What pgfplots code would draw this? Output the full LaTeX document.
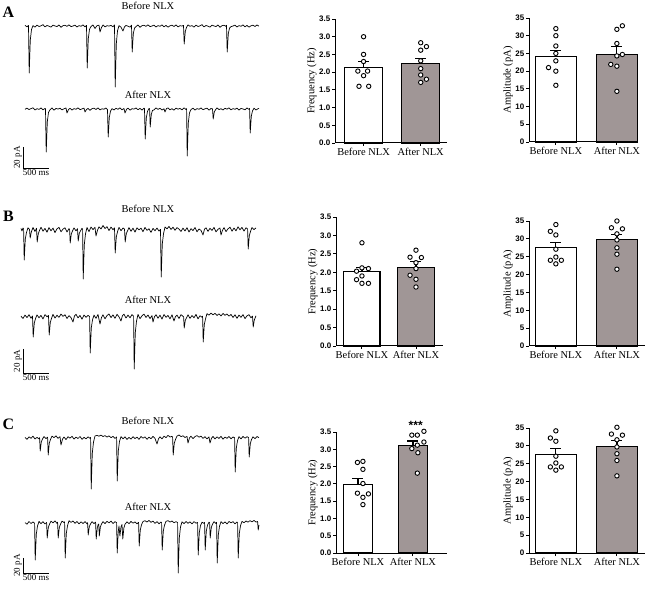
\documentclass[border=0pt]{standalone}
\usepackage{fontspec}
\setmainfont{Liberation Serif}
\setsansfont{Liberation Sans}
\usepackage{pgfplots}
\pgfplotsset{compat=1.18}
\definecolor{aftergray}{RGB}{160,150,150}
\pgfplotsset{
 barax/.style={
  scale only axis, axis x line=bottom, axis y line=left,
  axis line style={-, line width=1bp, black},
  tick align=outside, tick style={black, line width=0.9bp}, major tick length=3bp,
  xtick={0,1}, xticklabels={Before NLX, After NLX},
  x tick label style={font=\fontsize{10.5}{11}\selectfont, inner sep=1.5bp},
  y tick label style={font=\sffamily\bfseries\fontsize{8}{9}\selectfont, inner sep=1.5bp},
  ymin=0, clip=false, anchor=south west,
  ylabel style={font=\fontsize{10.5}{12}\selectfont, inner sep=1bp},
 },
 freq/.style={ymax=3.5, ytick={0,0.5,1,1.5,2,2.5,3,3.5}, ylabel={Frequency (Hz)},
  yticklabel style={/pgf/number format/.cd,fixed,fixed zerofill,precision=1,assume math mode=true}},
 amp/.style={ymax=35, ytick={0,5,10,15,20,25,30,35}, ylabel={Amplitude (pA)},
  yticklabel style={/pgf/number format/assume math mode=true}},
 errstyle/.style={error bars/y dir=plus, error bars/y explicit,
  error bars/error mark=-,
  error bars/error bar style={line width=1.2bp, black},
  error bars/error mark options={rotate=90, line width=1.2bp, mark size=5.5bp, black}},
 beforebar/.style={ybar, bar shift=0pt, fill=white, draw=black, line width=1.1bp, errstyle},
 afterbar/.style={ybar, bar shift=0pt, fill=aftergray, draw=black, line width=1.1bp, errstyle},
 pts/.style={only marks, mark=*, mark size=2.2bp, mark options={fill=white, draw=black, line width=0.9bp}},
 trace/.style={hide axis, x=1bp, y=1bp, xmin=0, xmax=235, ymin=-65, ymax=5, clip=false, anchor=north west},
 tr/.style={black, line width=0.7bp, line join=round, no markers},
 sbar/.style={black, line width=0.9bp, no markers},
}
\begin{document}
\begin{tikzpicture}
\useasboundingbox (0,0) rectangle (647bp,589bp);
% ---------- panel letters and trace titles
\node[font=\bfseries\fontsize{16}{16}\selectfont] at (8.5bp,577bp) {A};
\node[font=\bfseries\fontsize{16}{16}\selectfont] at (8.5bp,373bp) {B};
\node[font=\bfseries\fontsize{16}{16}\selectfont] at (8.5bp,165bp) {C};
\node[font=\fontsize{10.5}{11}\selectfont] at (148bp,583bp) {Before NLX};
\node[font=\fontsize{10.5}{11}\selectfont] at (148bp,494.5bp) {After NLX};
\node[font=\fontsize{10.5}{11}\selectfont] at (148bp,380bp) {Before NLX};
\node[font=\fontsize{10.5}{11}\selectfont] at (148bp,289bp) {After NLX};
\node[font=\fontsize{10.5}{11}\selectfont] at (148bp,168bp) {Before NLX};
\node[font=\fontsize{10.5}{11}\selectfont] at (148bp,82bp) {After NLX};

% ---------- A traces
\begin{axis}[trace, at={(25bp,568bp)}]
\addplot[tr] coordinates {(0,0.6)(2,-0.8)(3.5,0.5)(4.2,-47)(5.3,-14)(6.5,-3.5)(8,0.4)(10,-1.2)(12,0.9)(14,-0.5)(16,0.2)(18,1.3)(20,-0.9)(22,0.5)(24,-0.2)(26,-1.1)(28,0.8)(30,0.1)(32,-0.6)(34,1.0)(36,-1.3)(38,0.3)(40,0.7)(42,-0.4)(44,1.2)(46,-0.7)(48,0.0)(50,0.9)(52,-1.0)(54,0.4)(56,-0.3)(58,1.1)(60,-0.8)(61.5,0.6)(62.2,-42)(63.3,-12.6)(64.5,-3.4)(66,-0.5)(68,1.0)(70,-2.5)(72,0.3)(74,0.8)(75,-6)(76.5,-1.5)(78,1.0)(80,-0.9)(82,0.3)(84,-0.1)(86,0.6)(88,-0.8)(89.5,1.1)(90.2,-61)(91.3,-18)(92.5,-4.9)(94,0.4)(96,-1.2)(98,-5)(99.5,-0.9)(101,0.5)(103,-0.2)(105,-1.1)(106.5,0.8)(107.2,-26)(108.3,-7.8)(109.5,-2.1)(111,-0.6)(113,1.0)(115,-1.3)(117,0.3)(119,0.7)(121,-0.4)(123,1.2)(125,-0.7)(127,0.0)(129,0.9)(131,-1.0)(133,0.4)(135,-0.3)(137,1.1)(139,-0.8)(141,0.6)(143,-1.2)(145,0.2)(147,0.8)(149,-0.5)(151,1.0)(153,-0.9)(155,0.3)(157,-0.1)(158.5,0.6)(159.2,-18)(160.3,-5.4)(161.5,-1.4)(163,1.1)(165,-0.3)(167,0.4)(169,-1.2)(171,0.9)(173,-0.5)(175,0.2)(177,1.3)(179,-0.9)(181,0.5)(183,-0.2)(185,-1.1)(187,0.8)(189,0.1)(191,-0.6)(193,1.0)(195,-1.3)(197,0.3)(199,0.7)(201,-0.4)(201.5,0.8)(202.2,-26)(203.3,-7.8)(204.5,-2.1)(206,-0.7)(208,0.0)(210,0.9)(212,-1.0)(214,0.4)(216,-0.3)(218,1.1)(220,-0.8)(222,0.6)(224,-1.2)(226,0.2)(228,0.8)(230,-0.5)(232,1.0)(234,-0.2)};
\end{axis}
\begin{axis}[trace, at={(25bp,485bp)}]
\addplot[tr] coordinates {(0,-0.3)(2,0.9)(4,-0.6)(6,0.4)(8,1.2)(10,-1.0)(12,0.3)(14,-0.4)(16,1.0)(18,-0.8)(20,0.5)(20.5,0.2)(21.2,-43)(22.3,-12.9)(23.5,-3.4)(25,-0.8)(27,1.1)(29,-1.2)(31,0.6)(33,-0.1)(35,0.8)(37,-0.9)(39,0.2)(41,1.0)(42,-4)(43.5,-0.6)(45,0.7)(47,-1.1)(49,0.4)(51,-0.3)(53,1.2)(55,-0.7)(57,0.1)(59,0.9)(60,-3)(61.5,-0.5)(63,0.6)(65,-1.3)(67,0.3)(69,0.8)(71,-0.5)(73,1.1)(75,-0.9)(77,0.2)(79,-0.2)(81,1.0)(82.5,-0.6)(83.2,-28)(84.3,-8.4)(85.5,-2.2)(87,0.4)(89,-1.0)(91,0.7)(93,-0.3)(95,1.2)(97,-0.8)(99,0.5)(100,-4)(101.5,-0.4)(103,0.9)(105,-1.2)(107,0.3)(109,-0.1)(111,1.0)(113,-0.7)(115,0.6)(117,-1.1)(119,0.8)(119.5,0.3)(120.2,-30)(121.3,-9)(122.5,-2.4)(124,0.5)(124.6,0.2)(125.2,-18)(126.3,-5.4)(127.5,-1.4)(129,-0.9)(131,1.1)(133,-0.4)(135,0.7)(137,-1.0)(139,0.2)(140,-3)(141.5,0.5)(143,1.0)(145,-0.8)(147,0.3)(149,-1.2)(151,0.9)(153,-0.2)(155,0.6)(157,-0.9)(159,1.2)(161,-0.5)(161.6,0.4)(162.2,-47)(163.3,-14)(164.5,-3.8)(166,-0.6)(168,0.9)(170,-1.1)(172,0.4)(174,-0.3)(176,1.0)(178,-0.7)(180,0.2)(182,0.8)(184,-1.2)(186,0.5)(187.5,0.1)(188.2,-10)(189.3,-3)(190.5,-0.8)(192,1.1)(194,-0.6)(196,0.3)(198,-1.0)(200,0.7)(202,-0.2)(204,1.2)(206,-0.9)(208,0.4)(210,-0.3)(212,0.9)(214,-1.1)(216,0.6)(218,0.0)(220,-0.8)(222,1.0)(224,-0.4)(224.6,0.5)(225.2,-24)(226.3,-7.2)(227.5,-1.9)(229,0.8)(231,-1.0)(233,0.3)(234,0.6)};
\addplot[sbar] coordinates {(-2,-38)(-2,-59)(24,-59)};
\node[rotate=90, anchor=south, font=\fontsize{9}{9}\selectfont, inner sep=1bp] at (axis cs:-2,-48.5) {20 pA};
\node[anchor=north, font=\fontsize{9}{9}\selectfont, inner sep=1bp] at (axis cs:11,-59) {500 ms};
\end{axis}

% ---------- B traces
\begin{axis}[trace, at={(21bp,364bp)}]
\addplot[tr] coordinates {(0,1.5)(1,-1)(2,2)(2.6,1)(3.2,-30)(4.3,-9)(5.5,-2.4)(7,2.2)(8.5,0.5)(9.2,-8)(10.3,-2)(12,2.5)(14,-1.5)(15.5,1.8)(16.2,-12)(17.3,-3.6)(18.5,-0.5)(20,2.8)(22,-1.2)(24,1.6)(26,-2.2)(28,2.4)(30,-0.8)(32,1.9)(34,-2.6)(36,1.2)(38,2.6)(40,-1.8)(42,0.9)(44,2.2)(46,-2.0)(48,1.4)(48.6,0.5)(49.2,-13)(50.3,-3.9)(51.5,-1)(53,2.1)(55,-0.9)(56.5,1.3)(57.2,-11)(58.3,-3.3)(59.5,-0.9)(61,1.7)(61.6,0.8)(62.2,-49)(63.3,-14.7)(64.5,-3.9)(66,2.5)(68,-1.6)(70,3.0)(72,0.4)(74,2.7)(75,-6)(76.5,-0.2)(78,3.2)(80,1.0)(82,4.5)(84,1.5)(86,3.4)(88,-0.6)(90,2.9)(92,0.3)(93.5,2.1)(94.2,-23)(95.3,-6.9)(96.5,-1.8)(98,2.6)(100,-0.7)(102,2.0)(103.5,0.9)(104.2,-12)(105.3,-3.6)(106.5,-0.9)(108,2.4)(110,-1.3)(112,1.8)(114,-2.1)(116,2.2)(118,0.1)(120,1.9)(122,-1.7)(124,2.6)(126,-0.4)(128,1.2)(130,-2.4)(132,1.6)(134,-0.8)(136,2.0)(138,-1.1)(139.5,0.6)(140.2,-47)(141.3,-14)(142.5,-3.8)(144,3.0)(146,1.1)(148,3.6)(150,0.5)(152,2.8)(154,-0.3)(156,2.4)(158,0.9)(160,-1.5)(162,1.9)(164,-1.0)(166,2.3)(168,-2.0)(170,1.3)(172,-0.6)(174,2.5)(176,-1.8)(178,1.0)(180,-0.4)(182,-5)(183.5,0.8)(185,2.2)(187,-1.4)(189,1.7)(191,-0.5)(193,2.6)(195,-1.9)(197,0.7)(199,2.0)(200,-5)(201.5,-0.3)(203,2.4)(205,-1.6)(207,1.1)(209,2.8)(211,-1.2)(213,2.0)(215,-0.9)(217,3.2)(219,0.2)(221,2.6)(223,-1.1)(225,2.2)(226.6,1.0)(227.2,-19)(228.3,-5.7)(229.5,-1.5)(231,2.5)(233,0.4)(235,2.1)};
\end{axis}
\begin{axis}[trace, at={(21bp,277bp)}]
\addplot[tr] coordinates {(0,0.8)(2,-1.5)(4,1.9)(6,-0.6)(8,2.3)(10,-1.2)(11.5,1.0)(12.2,-20)(13.3,-6)(14.5,-1.6)(16,2.1)(18,-0.8)(20,1.6)(22,-2.0)(24,2.4)(26,0.2)(27.5,1.5)(28.2,-18)(29.3,-5.4)(30.5,-1.4)(32,2.6)(34,-1.1)(36,1.8)(38,-0.4)(40,2.9)(42,0.6)(44,2.2)(46,-1.5)(48,1.3)(50,-0.7)(52,-5)(53.5,1.2)(55,2.7)(57,-0.9)(59,1.6)(61,-2.2)(63,2.0)(65,-0.3)(67,1.7)(68.6,0.4)(69.2,-36)(70.3,-10.8)(71.5,-2.9)(73,1.9)(75,-1.4)(77,2.5)(79,-7)(80.5,-0.5)(82,2.2)(84,-1.8)(86,1.4)(88,3.0)(90,-0.6)(92,2.1)(94,-1.3)(96,2.7)(98,0.1)(100,-4)(101.5,1.5)(103,2.8)(105,-1.0)(107,1.9)(109,-0.8)(111,2.4)(112.6,0.9)(113.2,-52)(114.3,-15.6)(115.5,-4.2)(117,2.6)(119,-1.7)(121,1.2)(123,2.9)(125,-0.5)(127,2.0)(129,-1.6)(131,1.4)(132,-5)(133.5,0.3)(135,2.3)(137,-1.2)(139,1.8)(141,-2.1)(143,2.5)(145,-0.3)(147,1.6)(149,-1.9)(151,2.2)(153,-4)(154.5,0.4)(156,1.9)(158,-1.5)(160,2.4)(162,0.6)(162.6,0.2)(163.2,-11)(164.3,-3.3)(165.5,-0.9)(167,2.2)(169,-1.4)(171,1.5)(173,-0.8)(175,2.6)(177,-1.9)(179,1.2)(181,-0.2)(181.6,0.8)(182.2,-25)(183.3,-7.5)(184.5,-2)(186,3.4)(188,1.8)(190,3.8)(192,2.2)(194,3.6)(196,1.5)(198,3.2)(200,1.0)(202,3.5)(204,1.7)(206,3.0)(208,0.8)(210,2.6)(212,-0.5)(214,2.2)(216,-1.3)(218,1.9)(220,-0.4)(222,2.4)(224,-1.6)(226,1.1)(228,2.3)(230,-0.8)(231.5,0.9)(232.2,-10)(233.3,-3)(235,1.2)};
\addplot[sbar] coordinates {(2,-32)(2,-56)(28,-56)};
\node[rotate=90, anchor=south, font=\fontsize{9}{9}\selectfont, inner sep=1bp] at (axis cs:2,-44) {20 pA};
\node[anchor=north, font=\fontsize{9}{9}\selectfont, inner sep=1bp] at (axis cs:15,-56) {500 ms};
\end{axis}

% ---------- C traces
\begin{axis}[trace, at={(25bp,156bp)}]
\addplot[tr] coordinates {(0,0.5)(2,-1.4)(4,1.2)(6,-0.3)(8,1.8)(10,-1.0)(12,0.6)(14,-0.8)(14.6,0.4)(15.2,-13)(16.3,-3.9)(17.5,-1)(19,1.5)(21,-0.6)(22.6,0.8)(23.2,-17)(24.3,-5.1)(25.5,-1.4)(27,1.9)(29,0.3)(31,2.2)(33,-0.4)(35,1.4)(36,-7)(37.5,-1.2)(39,1.0)(41,-1.6)(43,1.3)(45,-0.2)(47,1.7)(49,-1.1)(51,0.9)(53,-0.5)(55,1.5)(57,-1.3)(59,0.7)(61,-0.9)(63,1.2)(65,-0.4)(65.6,0.5)(66.2,-51)(67.3,-15.3)(68.5,-4.1)(70,2.0)(72,2.6)(74,1.8)(76,2.9)(78,1.5)(80,2.4)(82,0.9)(84,2.2)(86,0.3)(88,1.6)(90,-0.5)(91.6,1.1)(92.2,-43)(93.3,-12.9)(94.5,-3.4)(96,1.4)(98,-0.8)(100,1.2)(102,-1.5)(104,0.6)(106,-1.1)(108,1.3)(110,-0.6)(112,0.9)(114,-1.4)(116,1.5)(118,-0.2)(120,1.1)(122,-1.3)(124,0.8)(126,-0.7)(128,1.6)(130,-0.4)(132,-6)(133.5,-0.8)(135,1.2)(137,-0.9)(139,1.8)(141,0.4)(143,2.6)(145,1.0)(147,1.7)(147.6,0.6)(148.2,-17)(149.3,-5.1)(150.5,-1.4)(152,1.9)(154,3.0)(156,1.4)(158,2.2)(160,0.5)(162,1.6)(163,-5)(164.5,0.2)(166,1.8)(168,-0.6)(170,1.4)(172,2.4)(174,0.8)(176,1.9)(178,-0.4)(180,1.3)(182,-0.9)(184,1.1)(185,-5)(186.5,-0.3)(188,1.6)(190,-1.0)(192,1.2)(194,-0.5)(196,1.7)(198,-1.2)(200,0.9)(202,-0.3)(204,1.5)(206,-0.8)(208,1.0)(209.6,0.2)(210.2,-34)(211.3,-10.2)(212.5,-2.7)(214,1.4)(216,-0.9)(218,1.6)(220,-0.2)(222,1.3)(223.6,0.4)(224.2,-19)(225.3,-5.7)(226.5,-1.5)(228,1.2)(230,-0.7)(232,1.5)(234,0.3)};
\end{axis}
\begin{axis}[trace, at={(25bp,71bp)}]
\addplot[tr] coordinates {(0,0.4)(2,-1.2)(4,1.5)(6,-0.5)(8,1.1)(9.6,-0.3)(10.2,-37)(11.3,-11.1)(12.5,-3)(14,1.6)(16,-0.7)(18,1.3)(20,-1.0)(21.6,0.6)(22.2,-15)(23.3,-4.5)(24.5,-1.2)(26,1.8)(28,0.2)(30,2.1)(32,-0.4)(32.6,0.8)(33.2,-15)(34.3,-4.5)(35.5,-1.2)(37,1.9)(39,0.5)(39.6,1.2)(40.2,-35)(41.3,-10.5)(42.5,-2.8)(44,2.3)(46,0.6)(48,2.0)(50,-0.3)(52,1.5)(54,-0.9)(56,1.2)(58,-0.5)(60,1.4)(62,-0.8)(62.6,0.3)(63.2,-12)(64.3,-3.6)(65.5,-1)(67,1.3)(69,-0.6)(70.6,0.9)(71.2,-16)(72.3,-4.8)(73.2,-1.5)(73.8,-1)(74.3,-13)(75.4,-3.9)(76.5,-1)(78,1.4)(80,-0.6)(82,1.7)(84,0.1)(86,1.9)(88,-0.5)(90,1.3)(91.6,0.4)(92.2,-30)(93.2,-9)(94,-3)(94.9,-13)(96,-4)(97,-1.5)(97.8,-16)(98.9,-4.8)(100,-1.3)(102,1.2)(104,-0.7)(106,1.6)(108,-0.2)(110,1.1)(112,-0.9)(113.6,0.6)(114.2,-23)(115.3,-6.9)(116.5,-1.8)(118,1.5)(120,2.3)(122,1.0)(124,2.5)(126,0.7)(128,1.9)(130,-0.4)(132,1.4)(134,-0.8)(136,1.0)(136.6,0.2)(137.2,-27)(138.3,-8.1)(139.5,-2.2)(141,1.6)(143,2.4)(145,0.9)(147,2.0)(149,0.3)(151,1.3)(152.6,0.5)(153.2,-50)(154.3,-15)(155.5,-4)(157,1.2)(159,-0.6)(161,1.5)(163,-0.3)(165,1.2)(167,-0.9)(169,1.4)(171,-0.2)(172.6,0.5)(173.2,-32)(174.3,-9.6)(175.5,-2.6)(177,0.8)(179,-0.4)(179.6,0.6)(180.2,-27)(181.3,-8.1)(182.5,-2.2)(184,0.9)(184.6,0.3)(185.2,-15)(186.3,-4.5)(187.5,-1.2)(189,1.3)(191,-0.5)(191.6,0.7)(192.2,-40)(193.3,-12)(194.5,-3.2)(196,1.4)(198,-0.6)(200,1.1)(202,-1.0)(204,1.5)(206,0.2)(208,1.3)(210,-0.8)(212,1.0)(212.6,0.4)(213.2,-35)(214.3,-10.5)(215.5,-2.8)(217,1.6)(219,0.3)(221,2.0)(223,0.8)(225,2.4)(227,1.1)(229,2.6)(231,0.9)(232.6,1.5)(233.2,-7)(234,-2)};
\addplot[sbar] coordinates {(-2,-35)(-2,-50)(24,-50)};
\node[rotate=90, anchor=south, font=\fontsize{9}{9}\selectfont, inner sep=1bp] at (axis cs:-2,-42.5) {20 pA};
\node[anchor=north, font=\fontsize{9}{9}\selectfont, inner sep=1bp] at (axis cs:11,-50) {500 ms};
\end{axis}

% ---------- A bars
\begin{axis}[barax, freq, at={(335bp,446bp)}, width=112bp, height=124bp, xmin=-0.5, xmax=1.46]
\addplot[bar width=0.67, beforebar] coordinates {(0,2.13) +- (0,0.17)};
\addplot[bar width=0.67, afterbar] coordinates {(1,2.25) +- (0,0.14)};
\addplot[pts] coordinates {(0,3.0)(0,2.5)(0,2.3)(-0.1,2.03)(0.07,2.03)(0,1.9)(-0.08,1.6)(0.09,1.6)};
\addplot[pts] coordinates {(1,2.83)(1.1,2.72)(1,2.62)(1,2.32)(1,2.1)(1,1.92)(1.1,1.8)(1,1.71)};
\end{axis}
\begin{axis}[barax, amp, at={(529bp,447bp)}, width=108bp, height=124bp, xmin=-0.44, xmax=1.33]
\addplot[bar width=0.68, beforebar] coordinates {(0,24.2) +- (0,1.7)};
\addplot[bar width=0.68, afterbar] coordinates {(1,24.8) +- (0,2.2)};
\addplot[pts] coordinates {(0,32)(0,30)(0,27.1)(0,25)(0,22.9)(-0.12,21)(0,20)(0,16)};
\addplot[pts] coordinates {(1,31.8)(1.09,32.8)(1,27.8)(1,24.3)(1.09,24.7)(0.9,21.9)(1,21.4)(1,14.3)};
\end{axis}

% ---------- B bars
\begin{axis}[barax, freq, at={(336bp,243bp)}, width=107bp, height=129bp, xmin=-0.48, xmax=1.5]
\addplot[bar width=0.67, beforebar] coordinates {(0,2.03) +- (0,0.11)};
\addplot[bar width=0.67, afterbar] coordinates {(1,2.14) +- (0,0.16)};
\addplot[pts] coordinates {(0,2.8)(0,2.12)(0.12,2.1)(-0.1,2.03)(0,1.9)(-0.1,1.8)(0,1.7)(0.12,1.7)};
\addplot[pts] coordinates {(1,2.6)(0.89,2.41)(1.1,2.4)(1,2.26)(1,2.1)(0.89,1.92)(1,1.81)(1,1.6)};
\end{axis}
\begin{axis}[barax, amp, at={(529bp,243bp)}, width=116bp, height=125bp, xmin=-0.44, xmax=1.46]
\addplot[bar width=0.68, beforebar] coordinates {(0,27.5) +- (0,1.5)};
\addplot[bar width=0.68, afterbar] coordinates {(1,29.7) +- (0,1.6)};
\addplot[pts] coordinates {(0,34)(-0.09,32.1)(0,31.1)(0,27.1)(0,24.9)(-0.09,24)(0.09,24)(0,23)};
\addplot[pts] coordinates {(1,35)(0.91,33.1)(1.09,32.8)(1,31.4)(1,29.7)(1,27.5)(1,25.7)(1,21.5)};
\end{axis}

% ---------- C bars
\begin{axis}[barax, freq, at={(336bp,36bp)}, width=111bp, height=121bp, xmin=-0.4, xmax=1.62]
\addplot[bar width=0.52, beforebar] coordinates {(0,1.99) +- (0,0.17)};
\addplot[bar width=0.52, afterbar] coordinates {(1,3.11) +- (0,0.13)};
\addplot[pts] coordinates {(-0.01,2.62)(0.09,2.65)(0.09,2.42)(0.09,2.01)(-0.01,1.73)(0.19,1.71)(0.09,1.61)(0.09,1.4)};
\addplot[pts] coordinates {(0.98,3.41)(1.08,3.41)(1.2,3.52)(1.2,3.21)(1.08,3.12)(0.98,3.02)(1.09,2.9)(1.08,2.31)};
\node[anchor=base, font=\sffamily\bfseries\fontsize{12}{12}\selectfont, inner sep=0pt] at (axis cs:1.05,3.5) [yshift=3bp] {***};
\end{axis}
\begin{axis}[barax, amp, at={(529bp,36bp)}, width=116bp, height=125bp, xmin=-0.44, xmax=1.46]
\addplot[bar width=0.68, beforebar] coordinates {(0,27.7) +- (0,1.5)};
\addplot[bar width=0.68, afterbar] coordinates {(1,29.9) +- (0,1.6)};
\addplot[pts] coordinates {(0,34.2)(-0.09,32.2)(0,31.3)(0,27.1)(0,25.2)(-0.09,24.1)(0.09,24.1)(0,23.2)};
\addplot[pts] coordinates {(1,35.2)(0.91,33.3)(1.09,33.0)(1,31.7)(1,29.7)(1,27.8)(1,25.9)(1,21.6)};
\end{axis}
\end{tikzpicture}
\end{document}
